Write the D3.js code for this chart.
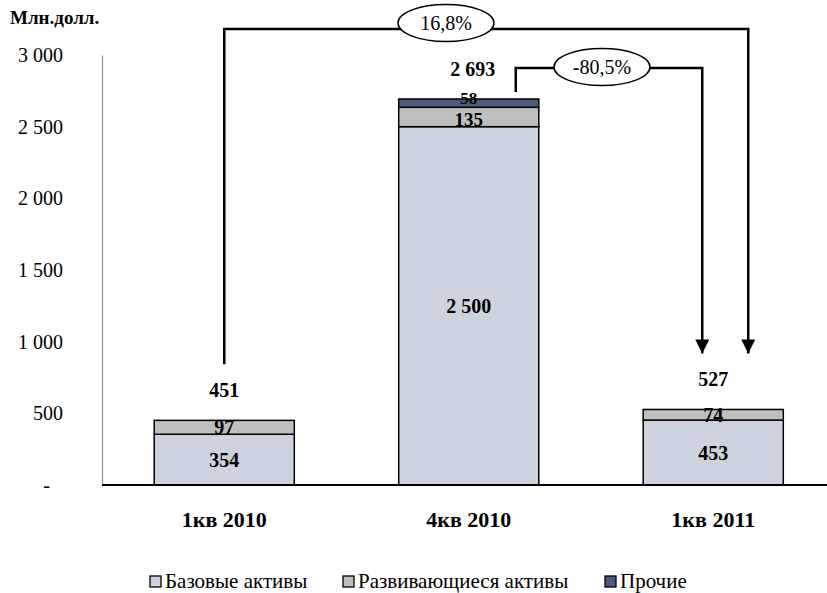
<!DOCTYPE html>
<html><head><meta charset="utf-8">
<script src="https://cdn.jsdelivr.net/npm/d3@7"></script>
<style>body{margin:0;background:#fff}svg{display:block}</style>
</head><body><svg id="c" width="827" height="593" font-family="'Liberation Serif', LiberationSerif, 'Times New Roman', Times, 'DejaVu Serif', serif"></svg>
<script>
const FONT = "'Liberation Serif', LiberationSerif, 'Times New Roman', Times, 'DejaVu Serif', serif";
const categories = ["1кв 2010", "4кв 2010", "1кв 2011"];
const seriesNames = ["Базовые активы", "Развивающиеся активы", "Прочие"];
const baseValues = [354, 2500, 453];
const devValues = [97, 135, 74];
const otherValues = [0, 58, 0];
const totals = [451, 2693, 527];
const yTicks = [0, 500, 1000, 1500, 2000, 2500, 3000];
const changeLabels = ["16,8%", "-80,5%"];
const colors = ["#CDD3DE", "#BFBFBF", "#4F5B7A"];

const svg = d3.select("#c");
const x = d3.scaleBand().domain(categories).range([102, 835.5]).paddingInner(0.427).paddingOuter(0.2135);
const y = d3.scaleLinear().domain([0, 3000]).range([485, 55]);
const fmt = d3.formatLocale({decimal: ",", thousands: " ", grouping: [3], currency: ["", ""]}).format(",d");

// y axis
const ya = svg.append("g").attr("transform", "translate(102,0)")
  .call(d3.axisLeft(y).tickValues(yTicks).tickSize(0).tickPadding(39).tickFormat(d => d === 0 ? "-" : fmt(d)));
ya.attr("font-family", FONT);
ya.select(".domain").attr("stroke", "#999").attr("stroke-width", 1.3);
ya.selectAll("text").attr("font-size", 20).attr("fill", "#000")
  .attr("font-family", FONT).attr("dy", "0.32em")
  .attr("dx", d => d === 0 ? -13 : 0);

svg.append("text").attr("x", 10).attr("y", 24).attr("font-family", FONT).attr("font-size", 19).attr("font-weight", "bold").text("Млн.долл.");

// stacked bars
const rows = categories.map((c, i) => ({cat: c, v: [baseValues[i], devValues[i], otherValues[i]]}));
rows.forEach((r, i) => {
  let acc = 0;
  r.v.forEach((v, k) => {
    if (v <= 0) return;
    const y0 = acc, y1 = acc + v; acc = y1;
    svg.append("rect").attr("x", x(r.cat)).attr("width", x.bandwidth())
      .attr("y", y(y1)).attr("height", y(y0) - y(y1))
      .attr("fill", colors[k]).attr("stroke", "#000").attr("stroke-width", 1.5);
  });
});
// segment labels
rows.forEach((r, i) => {
  let acc = 0;
  r.v.forEach((v, k) => {
    if (v <= 0) return;
    const mid = acc + v / 2; acc += v;
    const shift = k === 2 ? -5 : (i === 1 && k === 1 ? 2 : 0);
    svg.append("text").attr("x", x(r.cat) + x.bandwidth() / 2).attr("y", y(mid) + shift).attr("dy", "0.35em")
      .attr("font-family", FONT)
      .attr("text-anchor", "middle").attr("font-size", k === 2 ? 17 : (i === 1 && k === 1 ? 19 : 20)).attr("font-weight", "bold").text(fmt(v));
  });
  svg.append("text").attr("x", x(r.cat) + x.bandwidth() / 2 + (i === 1 ? 4 : 0)).attr("y", y(totals[i]) - 30).attr("dy", "0.35em")
    .attr("font-family", FONT)
    .attr("text-anchor", "middle").attr("font-size", 20).attr("font-weight", "bold").text(fmt(totals[i]));
});

// x axis
svg.append("line").attr("x1", 102).attr("x2", 827).attr("y1", y(0)).attr("y2", y(0)).attr("stroke", "#000").attr("stroke-width", 2);
categories.forEach(c => {
  svg.append("text").attr("x", x(c) + x.bandwidth() / 2).attr("y", 527).attr("text-anchor", "middle")
    .attr("font-family", FONT)
    .attr("font-size", 22).attr("font-weight", "bold").text(c);
});

// brackets
svg.append("defs").append("marker").attr("id", "ah").attr("viewBox", "0 0 10 10").attr("refX", 10).attr("refY", 5)
  .attr("markerWidth", 14).attr("markerHeight", 14).attr("markerUnits", "userSpaceOnUse").attr("orient", "auto")
  .append("path").attr("d", "M0,0 L10,5 L0,10 Z").attr("fill", "#000");
const c1 = x(categories[0]) + x.bandwidth() / 2;
const c2 = x(categories[1]) + x.bandwidth() / 2;
const c3 = x(categories[2]) + x.bandwidth() / 2;
const tipY = y(totals[2]) - 56;
const outerY = 29, innerY = 68;
svg.append("path").attr("d", `M${c1},${y(totals[0]) - 56} V${outerY} H${c3 + 35} V${tipY}`)
  .attr("fill", "none").attr("stroke", "#000").attr("stroke-width", 2.5).attr("marker-end", "url(#ah)");
svg.append("path").attr("d", `M${c2 + 47},${y(totals[1]) - 7} V${innerY} H${c3 - 11} V${tipY}`)
  .attr("fill", "none").attr("stroke", "#000").attr("stroke-width", 2.5).attr("marker-end", "url(#ah)");
const ell = [[446, 23, changeLabels[0]], [602, 67, changeLabels[1]]];
ell.forEach(([cx, cy, t]) => {
  svg.append("ellipse").attr("cx", cx).attr("cy", cy).attr("rx", 48).attr("ry", 18.5)
    .attr("fill", "#fff").attr("stroke", "#000").attr("stroke-width", 1.5);
  svg.append("text").attr("x", cx).attr("y", cy).attr("dy", "0.35em").attr("text-anchor", "middle")
    .attr("font-family", FONT)
    .attr("font-size", 20).text(t);
});

// legend
const legX = [150, 343, 605];
seriesNames.forEach((n, k) => {
  svg.append("rect").attr("x", legX[k]).attr("y", 576).attr("width", 11).attr("height", 11)
    .attr("fill", colors[k]).attr("stroke", "#000").attr("stroke-width", 1.3);
  svg.append("text").attr("x", legX[k] + 15).attr("y", 588).attr("font-family", FONT).attr("font-size", 21).text(n);
});
</script></body></html>
